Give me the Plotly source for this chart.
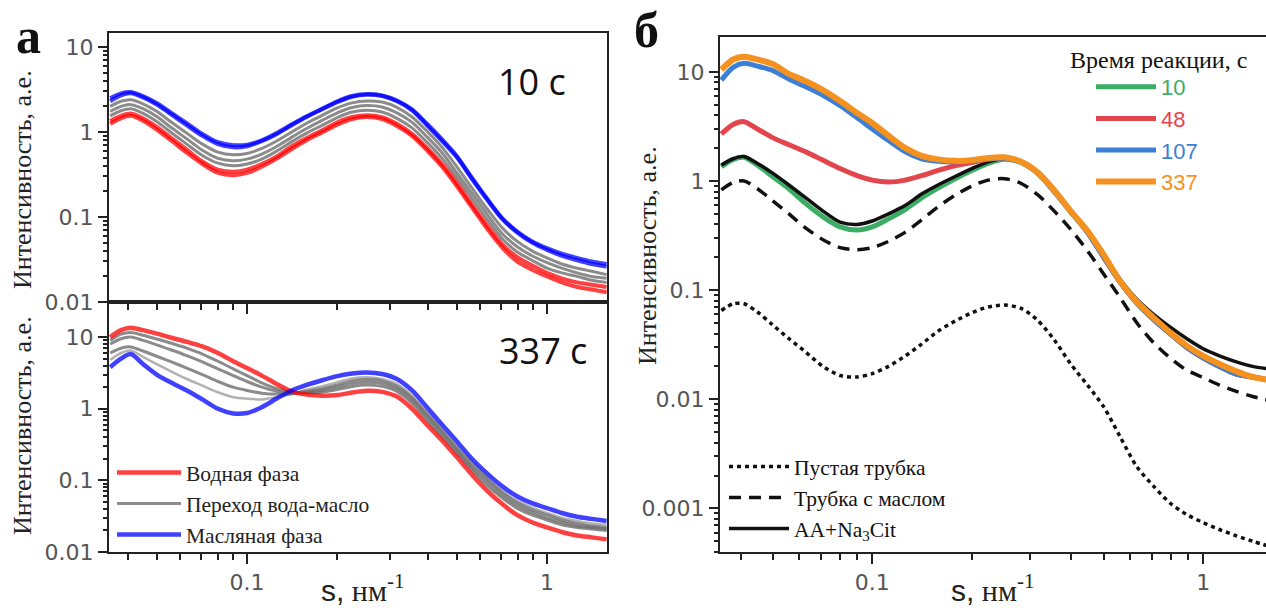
import plotly.graph_objects as go

# ---------------- data ----------------
S = [0.035, 0.038, 0.041, 0.045, 0.05, 0.056, 0.063, 0.071, 0.08, 0.09,
     0.1, 0.112, 0.126, 0.141, 0.158, 0.178, 0.2, 0.224, 0.251, 0.282,
     0.316, 0.355, 0.398, 0.447, 0.501, 0.562, 0.631, 0.708, 0.794, 0.891,
     1.0, 1.12, 1.26, 1.41, 1.58]

# panel a, 10 s
red_10_a = [1.35, 1.55, 1.65, 1.45, 1.15, 0.85, 0.62, 0.45, 0.36, 0.34,
            0.36, 0.42, 0.52, 0.68, 0.85, 1.05, 1.3, 1.5, 1.58, 1.5,
            1.25, 0.95, 0.65, 0.42, 0.25, 0.14, 0.08, 0.048, 0.034, 0.027,
            0.022, 0.019, 0.017, 0.016, 0.015]
red_10_b = [1.25, 1.45, 1.55, 1.36, 1.07, 0.79, 0.57, 0.42, 0.33, 0.31,
            0.33, 0.39, 0.49, 0.63, 0.8, 0.99, 1.22, 1.42, 1.5, 1.42,
            1.18, 0.9, 0.61, 0.39, 0.23, 0.13, 0.073, 0.044, 0.03, 0.024,
            0.02, 0.017, 0.015, 0.014, 0.013]
gray_10_a = [2.0, 2.3, 2.4, 2.15, 1.75, 1.3, 0.97, 0.72, 0.58, 0.54,
             0.56, 0.64, 0.79, 1.0, 1.27, 1.57, 1.92, 2.2, 2.32, 2.25,
             1.95, 1.5, 1.02, 0.66, 0.39, 0.22, 0.125, 0.075, 0.052, 0.04,
             0.033, 0.028, 0.025, 0.023, 0.021]
gray_10_b = [1.75, 2.0, 2.1, 1.88, 1.52, 1.12, 0.83, 0.61, 0.49, 0.46,
             0.48, 0.55, 0.68, 0.87, 1.1, 1.37, 1.68, 1.94, 2.05, 1.97,
             1.68, 1.3, 0.88, 0.57, 0.33, 0.19, 0.108, 0.064, 0.045, 0.035,
             0.029, 0.025, 0.022, 0.02, 0.019]
gray_10_c = [1.55, 1.78, 1.88, 1.66, 1.33, 0.98, 0.72, 0.53, 0.43, 0.4,
             0.42, 0.48, 0.6, 0.77, 0.97, 1.2, 1.48, 1.72, 1.8, 1.72,
             1.45, 1.12, 0.76, 0.49, 0.29, 0.165, 0.094, 0.056, 0.039, 0.031,
             0.025, 0.022, 0.02, 0.018, 0.017]
blue_10_a = [2.3, 2.7, 2.85, 2.55, 2.1, 1.6, 1.2, 0.9, 0.72, 0.66,
             0.68, 0.78, 0.95, 1.2, 1.5, 1.85, 2.25, 2.6, 2.75, 2.65,
             2.3, 1.8, 1.2, 0.78, 0.5, 0.28, 0.16, 0.095, 0.066, 0.05,
             0.041, 0.035, 0.031, 0.028, 0.026]
blue_10_b = [2.5, 2.85, 2.95, 2.65, 2.2, 1.68, 1.27, 0.95, 0.76, 0.7,
             0.71, 0.8, 0.98, 1.23, 1.53, 1.88, 2.3, 2.65, 2.8, 2.7,
             2.35, 1.85, 1.25, 0.82, 0.52, 0.29, 0.165, 0.098, 0.068, 0.052,
             0.043, 0.037, 0.033, 0.03, 0.028]

# panel a, 337 s
red_337 = [10.0, 12.5, 13.5, 12.5, 11.2, 9.8, 8.6, 7.4, 6.0, 4.6,
           3.7, 2.9, 2.2, 1.75, 1.58, 1.52, 1.55, 1.68, 1.78, 1.72,
           1.48, 1.0, 0.6, 0.36, 0.21, 0.12, 0.072, 0.047, 0.033, 0.026,
           0.022, 0.019, 0.017, 0.016, 0.015]
gray_337_a = [9.0, 11.0, 11.6, 10.6, 9.4, 8.2, 7.0, 5.8, 4.6, 3.6,
              2.9, 2.3, 1.9, 1.7, 1.65, 1.7, 1.85, 2.05, 2.15, 2.05,
              1.75, 1.2, 0.7, 0.41, 0.24, 0.14, 0.085, 0.057, 0.041, 0.033,
              0.028, 0.024, 0.022, 0.021, 0.02]
gray_337_b = [8.0, 9.5, 10.0, 9.0, 7.8, 6.6, 5.5, 4.5, 3.6, 2.9,
              2.4, 2.0, 1.75, 1.65, 1.7, 1.8, 2.0, 2.25, 2.35, 2.25,
              1.9, 1.32, 0.78, 0.45, 0.26, 0.15, 0.095, 0.062, 0.045, 0.036,
              0.03, 0.026, 0.023, 0.022, 0.021]
gray_337_c = [6.0, 7.0, 7.3, 6.4, 5.4, 4.5, 3.7, 3.0, 2.4, 2.0,
              1.8, 1.65, 1.6, 1.62, 1.75, 1.9, 2.15, 2.45, 2.55, 2.45,
              2.05, 1.42, 0.84, 0.49, 0.28, 0.165, 0.105, 0.068, 0.049, 0.039,
              0.033, 0.028, 0.025, 0.023, 0.022]
gray_337_d = [4.8, 6.0, 6.5, 5.3, 4.2, 3.3, 2.6, 2.1, 1.7, 1.45,
              1.38, 1.35, 1.45, 1.6, 1.85, 2.05, 2.35, 2.65, 2.75, 2.6,
              2.2, 1.52, 0.9, 0.52, 0.3, 0.18, 0.11, 0.072, 0.052, 0.042,
              0.035, 0.03, 0.027, 0.025, 0.024]
blue_337 = [3.8, 5.0, 5.8, 4.2, 3.0, 2.3, 1.8, 1.35, 1.0, 0.86,
            0.87, 1.05, 1.4, 1.8, 2.15, 2.5, 2.85, 3.1, 3.2, 3.05,
            2.6, 1.8, 1.05, 0.6, 0.35, 0.2, 0.125, 0.083, 0.06, 0.048,
            0.041, 0.035, 0.031, 0.029, 0.027]

# panel b
orange_337 = [10.5, 13.0, 13.8, 13.0, 11.8, 9.6, 8.2, 6.8, 5.4, 4.2,
              3.4, 2.6, 2.0, 1.7, 1.58, 1.53, 1.55, 1.63, 1.65, 1.5,
              1.2, 0.82, 0.53, 0.35, 0.21, 0.12, 0.078, 0.056, 0.041, 0.031,
              0.025, 0.021, 0.018, 0.016, 0.015]
blue_107 = [8.4, 11.0, 12.0, 11.3, 10.3, 8.6, 7.3, 6.1, 4.9, 3.8,
            3.0, 2.35, 1.85, 1.6, 1.52, 1.5, 1.53, 1.6, 1.62, 1.48,
            1.18, 0.8, 0.52, 0.34, 0.2, 0.118, 0.076, 0.054, 0.04, 0.03,
            0.024, 0.02, 0.017, 0.016, 0.015]
red_48 = [2.7, 3.3, 3.5, 3.0, 2.5, 2.15, 1.85, 1.55, 1.3, 1.12,
          1.02, 0.98, 1.02, 1.12, 1.25, 1.38, 1.48, 1.58, 1.62, 1.5,
          1.2, 0.82, 0.53, 0.34, 0.2, 0.118, 0.076, 0.054, 0.04, 0.03,
          0.024, 0.02, 0.017, 0.016, 0.015]
green_10 = [1.35, 1.58, 1.65, 1.4, 1.1, 0.85, 0.62, 0.47, 0.38, 0.355,
            0.38, 0.45, 0.55, 0.7, 0.86, 1.05, 1.25, 1.45, 1.58, 1.48,
            1.18, 0.8, 0.52, 0.34, 0.2, 0.118, 0.076, 0.054, 0.04, 0.03,
            0.024, 0.02, 0.017, 0.016, 0.015]
black_aa = [1.4, 1.6, 1.68, 1.45, 1.18, 0.92, 0.7, 0.53, 0.42, 0.4,
            0.43, 0.5, 0.6, 0.76, 0.92, 1.1, 1.3, 1.5, 1.6, 1.5,
            1.2, 0.82, 0.53, 0.35, 0.21, 0.125, 0.082, 0.06, 0.046, 0.036,
            0.029, 0.025, 0.022, 0.02, 0.019]
dashed_oil = [0.83, 0.97, 1.0, 0.85, 0.66, 0.5, 0.37, 0.29, 0.245, 0.235,
              0.245, 0.28, 0.34, 0.44, 0.58, 0.74, 0.9, 1.02, 1.05, 0.95,
              0.75, 0.53, 0.36, 0.23, 0.14, 0.085, 0.05, 0.033, 0.024, 0.0185,
              0.0158, 0.0135, 0.0118, 0.0106, 0.0098]
dotted_empty = [0.065, 0.075, 0.075, 0.063, 0.048, 0.036, 0.027, 0.02, 0.0165, 0.016,
                0.0172, 0.02, 0.025, 0.032, 0.042, 0.052, 0.062, 0.07, 0.073, 0.068,
                0.053, 0.035, 0.021, 0.0135, 0.0085, 0.0045, 0.0024, 0.0016, 0.00112, 0.00088,
                0.00074, 0.00064, 0.00056, 0.0005, 0.00045]

LEG_A = ["Водная фаза", "Переход вода-масло", "Масляная фаза"]
LEG_T = ["10", "48", "107", "337"]
LEG_B = ["Пустая трубка", "Трубка с маслом", "AA+Na<sub>3</sub>Cit"]

# ---------------- styling ----------------
RED = "rgba(255,0,0,0.75)"
GRAY = "rgba(110,110,110,0.8)"
LGRAY = "rgba(170,170,170,0.9)"
BLUE = "rgba(0,0,255,0.75)"
C_GREEN, C_RED, C_BLUE, C_ORANGE = "#3cad64", "#e2464c", "#3b7fd6", "#f5921f"

fig = go.Figure()

def add(x, y, xa, ya, color, width, dash="solid", name=None, legend=None, show=False, group=None, rank=None):
    kw = {}
    if legend:
        kw["legend"] = legend
    if rank is not None:
        kw["legendrank"] = rank
    fig.add_trace(go.Scatter(x=x, y=y, xaxis=xa, yaxis=ya, mode="lines",
                             line=dict(color=color, width=width, dash=dash, shape="spline", smoothing=0.8),
                             name=name, showlegend=show, legendgroup=group, hoverinfo="skip", **kw))

# top-left (10 s)
for g in (gray_10_a, gray_10_b, gray_10_c):
    add(S, g, "x", "y", GRAY, 3)
for r in (red_10_a, red_10_b):
    add(S, r, "x", "y", RED, 4)
for b in (blue_10_a, blue_10_b):
    add(S, b, "x", "y", BLUE, 4)

# bottom-left (337 s)
add(S, gray_337_d, "x2", "y2", LGRAY, 2.5)
add(S, gray_337_c, "x2", "y2", GRAY, 3, name=LEG_A[1], legend="legend", show=True, group="g", rank=2)
add(S, gray_337_b, "x2", "y2", GRAY, 3)
add(S, gray_337_a, "x2", "y2", GRAY, 3)
add(S, red_337, "x2", "y2", RED, 4.5, name=LEG_A[0], legend="legend", show=True, group="r", rank=1)
add(S, blue_337, "x2", "y2", BLUE, 4.5, name=LEG_A[2], legend="legend", show=True, group="b", rank=3)

# right panel
add(S, dotted_empty, "x3", "y3", "#111", 3.5, dash="4px,4px", name=LEG_B[0], legend="legend3", show=True, group="d1", rank=1)
add(S, dashed_oil, "x3", "y3", "#111", 3.5, dash="12px,8px", name=LEG_B[1], legend="legend3", show=True, group="d2", rank=2)
add(S, green_10, "x3", "y3", C_GREEN, 5, name=f'<span style="color:{C_GREEN}">{LEG_T[0]}</span>', legend="legend2", show=True, group="t1", rank=1)
add(S, black_aa, "x3", "y3", "#111", 3.5, name=LEG_B[2], legend="legend3", show=True, group="d3", rank=3)
add(S, red_48, "x3", "y3", C_RED, 5, name=f'<span style="color:{C_RED}">{LEG_T[1]}</span>', legend="legend2", show=True, group="t2", rank=2)
add(S, blue_107, "x3", "y3", C_BLUE, 5, name=f'<span style="color:{C_BLUE}">{LEG_T[2]}</span>', legend="legend2", show=True, group="t3", rank=3)
add(S, orange_337, "x3", "y3", C_ORANGE, 6, name=f'<span style="color:{C_ORANGE}">{LEG_T[3]}</span>', legend="legend2", show=True, group="t4", rank=4)

# ---------------- axes ----------------
W, H = 1266, 610
def px_x(p): return p / W
def px_y(p): return 1 - p / H

XMINOR = [0.04, 0.05, 0.06, 0.07, 0.08, 0.09, 0.2, 0.3, 0.4, 0.5, 0.6, 0.7, 0.8, 0.9]
def yminor(lo, hi):
    out = []
    d = lo
    while d < hi:
        for k in range(2, 10):
            out.append(k * d)
        d *= 10
    return out

TICKFONT = dict(family="DejaVu Sans, sans-serif", size=22, color="#555")
AXC = "#222"

def xaxis(domain, anchor, labels, rng):
    return dict(type="log", domain=domain, anchor=anchor, range=rng, showgrid=False, zeroline=False,
                showline=True, linecolor=AXC, linewidth=2, mirror=True,
                ticks="outside", ticklen=10, tickwidth=2, tickcolor=AXC,
                tickvals=[0.1, 1], ticktext=["0.1", "1"], showticklabels=labels,
                minor=dict(tickvals=XMINOR, ticks="outside", ticklen=6, tickwidth=2, tickcolor=AXC, showgrid=False),
                tickfont=TICKFONT, automargin=False)

def yaxis(domain, anchor, rng, vals, labels, mlo, mhi, mirror=True):
    return dict(type="log", domain=domain, anchor=anchor, range=rng, showgrid=False, zeroline=False,
                showline=True, linecolor=AXC, linewidth=2, mirror=mirror,
                ticks="outside", ticklen=9, tickwidth=2, tickcolor=AXC,
                tickvals=vals, ticktext=labels,
                minor=dict(tickvals=yminor(mlo, mhi), ticks="outside", ticklen=4, tickwidth=1.5, tickcolor=AXC, showgrid=False),
                tickfont=TICKFONT, automargin=False)

LX = [px_x(109), px_x(607)]
RX = [px_x(720), 1.0]
fig.update_layout(
    xaxis=xaxis(LX, "y", False, [-1.46, 0.2]),
    yaxis=yaxis([px_y(302), px_y(33)], "x", [-2, 1.165], [0.01, 0.1, 1, 10], ["0.01", "0.1", "1", "10"], 0.01, 10),
    xaxis2=xaxis(LX, "y2", True, [-1.46, 0.2]),
    yaxis2=yaxis([px_y(552), px_y(302)], "x2", [-2, 1.49], [0.01, 0.1, 1, 10], ["0.01", "0.1", "1", "10"], 0.01, 10),
    xaxis3=xaxis(RX, "y3", True, [-1.46, 0.19]),
    yaxis3=yaxis([px_y(552), px_y(37)], "x3", [-3.4, 1.32], [0.001, 0.01, 0.1, 1, 10],
                 ["0.001", "0.01", "0.1", "1", "10"], 0.0001, 10, mirror=False),
)

SERIF = "Liberation Serif, Times New Roman, serif"
SANS = "Liberation Sans, Arial, sans-serif"

fig.update_layout(
    width=W, height=H, margin=dict(l=0, r=0, t=0, b=0, autoexpand=False),
    paper_bgcolor="white", plot_bgcolor="white",
    legend=dict(x=px_x(112), y=px_y(452), xanchor="left", yanchor="top", bgcolor="rgba(0,0,0,0)",
                font=dict(family=SERIF, size=21.5, color="#222"), itemwidth=64,
                traceorder="grouped", tracegroupgap=0),
    legend2=dict(x=px_x(1091), y=px_y(66), xanchor="left", yanchor="top", bgcolor="rgba(0,0,0,0)",
                 font=dict(family=SANS, size=22), itemwidth=60,
                 traceorder="grouped", tracegroupgap=0),
    legend3=dict(x=px_x(724), y=px_y(446), xanchor="left", yanchor="top", bgcolor="rgba(0,0,0,0)",
                 font=dict(family=SERIF, size=21.5, color="#111"), itemwidth=60,
                 traceorder="grouped", tracegroupgap=0),
)

def note(x, y, text, size, family=SERIF, angle=0, color="#222"):
    return dict(x=px_x(x), y=px_y(y), text=text, textangle=angle, showarrow=False,
                xref="paper", yref="paper", xanchor="center", yanchor="middle",
                font=dict(family=family, size=size, color=color))

ytitle = "Интенсивность, а.е."
xt = '<span style="font-family:Liberation Sans">s,</span> нм<sup>-1</sup>'
ann = [
    note(22, 180, ytitle, 26, angle=-90),
    note(22, 426, ytitle, 26, angle=-90),
    note(647, 256, ytitle, 26, angle=-90),
    note(362, 588, xt, 30),
    note(992, 588, xt, 30),
    note(28, 36, "<b>а</b>", 50, color="#111"),
    note(646, 30, "<b>б</b>", 50, color="#111"),
    note(532, 81, "10 с", 36, family="Open Sans", color="#111"),
    note(543, 351, "337 с", 36, family="Open Sans", color="#111"),
    note(1158, 60, "Время реакции, с", 24, color="#111"),
]
fig.update_layout(annotations=ann)

fig.write_html("out.html", config={"displayModeBar": False},
               post_script="document.body.style.margin='0px';document.body.style.overflow='hidden';")
